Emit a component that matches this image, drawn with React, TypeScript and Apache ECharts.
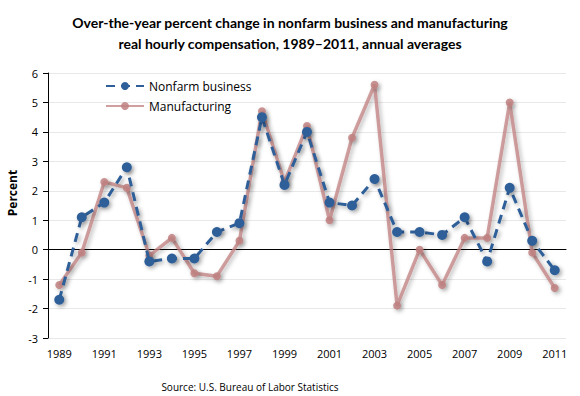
import React, { useEffect, useRef } from "react";
import * as echarts from "echarts";

const years = ["1989","1990","1991","1992","1993","1994","1995","1996","1997","1998","1999","2000","2001","2002","2003","2004","2005","2006","2007","2008","2009","2010","2011"];
const nonfarm = [-1.7, 1.1, 1.6, 2.8, -0.4, -0.3, -0.3, 0.6, 0.9, 4.5, 2.2, 4.0, 1.6, 1.5, 2.4, 0.6, 0.6, 0.5, 1.1, -0.4, 2.1, 0.3, -0.7];
const manufacturing = [-1.2, -0.1, 2.3, 2.1, -0.2, 0.4, -0.8, -0.9, 0.3, 4.7, 2.3, 4.2, 1.0, 3.8, 5.6, -1.9, 0.0, -1.2, 0.4, 0.4, 5.0, -0.1, -1.3];

const titleText = "Over-the-year percent change in nonfarm business and manufacturing\nreal hourly compensation, 1989\u20132011, annual averages";
const sourceText = "Source: U.S. Bureau of Labor Statistics";
const yTitle = "Percent";

const FONT = "'Open Sans', 'Noto Sans', sans-serif";
const TFONT = "Lato, 'Open Sans', sans-serif";

export default function App() {
  const ref = useRef<HTMLDivElement>(null);
  useEffect(() => {
    if (!ref.current) return;
    const chart = echarts.init(ref.current, undefined, { renderer: "svg" });
    const shadow = { shadowColor: "rgba(0,0,0,0.35)", shadowBlur: 4, shadowOffsetX: 2, shadowOffsetY: 2 };
    chart.setOption({
      animation: false,
      backgroundColor: "#ffffff",
      textStyle: { fontFamily: FONT },
      title: [
        {
          text: titleText,
          left: "center",
          top: 7,
          textStyle: { fontSize: 14, fontWeight: "bold", color: "#000", lineHeight: 21, fontFamily: TFONT },
        },
        {
          text: sourceText,
          left: 245,
          textAlign: "center",
          top: 377,
          textStyle: { fontSize: 10, fontWeight: "normal", color: "#000", fontFamily: FONT },
        },
      ],
      graphic: [
        {
          type: "text",
          x: 12,
          y: 193,
          rotation: Math.PI / 2,
          style: {
            text: yTitle,
            fontSize: 12,
            fontWeight: "bold",
            fill: "#000",
            fontFamily: FONT,
            textAlign: "center",
            textVerticalAlign: "middle",
          },
        },
      ],
      legend: {
        data: ["Nonfarm business", "Manufacturing"],
        orient: "vertical",
        left: 100,
        top: 75,
        itemWidth: 38,
        itemHeight: 10,
        itemGap: 8,
        textStyle: { fontSize: 12, color: "#000", fontFamily: FONT },
      },
      grid: { left: 48, right: 14, top: 73, bottom: 58 },
      xAxis: {
        type: "category",
        data: years,
        boundaryGap: true,
        axisLine: { onZero: true, lineStyle: { color: "#000", width: 1 } },
        axisTick: { show: false },
        axisLabel: { interval: 1, color: "#000", fontSize: 11, margin: 10, fontFamily: FONT },
        position: "bottom",
      },
      yAxis: {
        type: "value",
        min: -3,
        max: 6,
        interval: 1,
        axisLine: { show: true, lineStyle: { color: "#000", width: 1 } },
        axisTick: { show: true, length: 5, lineStyle: { color: "#000" } },
        axisLabel: { color: "#000", fontSize: 11, margin: 10, fontFamily: FONT },
        splitLine: { show: true, lineStyle: { color: "#E8E8E8", width: 1 } },
      },
      series: [
        {
          name: "Manufacturing",
          type: "line",
          data: manufacturing,
          symbol: "circle",
          symbolSize: 8,
          z: 2,
          itemStyle: { color: "rgba(192,128,128,0.85)", ...shadow },
          lineStyle: { color: "rgba(192,128,128,0.75)", width: 3.5, ...shadow },
        },
        {
          name: "Nonfarm business",
          type: "line",
          data: nonfarm,
          symbol: "circle",
          symbolSize: 10,
          z: 3,
          itemStyle: { color: "#2F5F98", ...shadow },
          lineStyle: { color: "#2F5F98", width: 3, type: [9, 6], ...shadow },
        },
      ],
    });
    return () => chart.dispose();
  }, []);
  return <div ref={ref} style={{ width: 580, height: 396, position: "absolute", left: 0, top: 0 }} />;
}
